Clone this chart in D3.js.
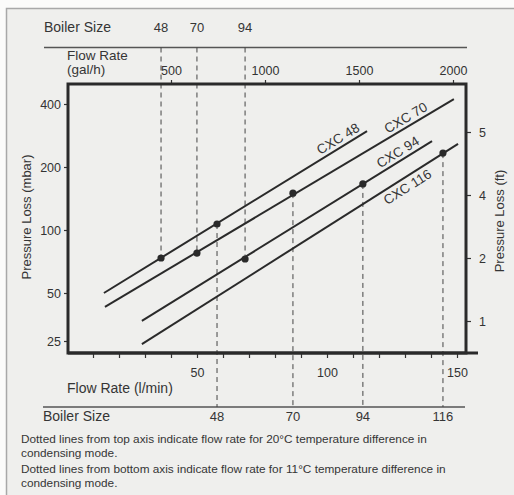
<!DOCTYPE html>
<html>
<head>
<meta charset="utf-8">
<script src="https://cdn.jsdelivr.net/npm/d3@7"></script>
<style>
  body { margin: 0; background: #fbfbfa; }
  svg { display: block; font-family: "Liberation Sans", Arial, sans-serif; }
  .tick text { fill: #333; font-size: 12.5px; }
  .tick line { stroke: #333; stroke-width: 1.2; }
</style>
</head>
<body>
<script>
// boiler sizes and the flow / pressure loss where each one sits
let boilerSizes = [48, 70, 94, 116];
let flowLmin = [57.7, 86.9, 113.8, 144.6];      // 11°C dT, bottom axis
let lossAtLmin = [106.8, 150, 166, 233];
let flowGalh = [447, 638, 894];                  // 20°C dT, top axis
let lossAtGalh = [73.5, 77.6, 72.7];

// curves: start / end as [l/min, mbar]
let curveNames = ["CXC 48", "CXC 70", "CXC 94", "CXC 116"];
let curveStart = [[14.2, 50], [14.6, 40.9], [28.8, 33.4], [28.8, 23.9]];
let curveEnd = [[115.4, 297], [148.8, 422], [140.4, 266], [150.4, 258]];
let labelFlow = [106, 132, 129, 129];

// tick labels
let mbarTicks = [25, 50, 100, 200, 400];
let ftTicks = [1, 2, 4, 5];
let lminTicks = [10, 20, 30, 40, 50, 60, 70, 80, 90, 100, 110, 120, 130, 140, 150];
let lminLabels = [50, 100, 150];
let galTicks = [500, 1000, 1500, 2000];

let svgWidth = 514, svgHeight = 495;
let plot = {left: 68, top: 84, right: 466, bottom: 353};

let svg = d3.select("body").append("svg")
    .attr("width", svgWidth)
    .attr("height", svgHeight);

// outer page frame
svg.append("rect")
    .attr("x", 6.5).attr("y", 8.5)
    .attr("width", 540).attr("height", 520)
    .attr("fill", "#efefed")
    .attr("stroke", "#a8a8a8")
    .attr("stroke-width", 1.5);

// scales
let x = d3.scaleLinear().domain([0, 150]).range([67, 457]);
let xGal = d3.scaleLinear().domain([0, 2000]).range([77, 453]);
let y = d3.scaleLog().domain([25, 50, 400]).range([341, 293, 104]);
let yFt = d3.scaleLog().domain([1, 4, 5]).range([321, 195, 132]);

let ink = "#2a2a2a";
let txt = "#353535";

// boiler size rows
let topLineY = 47.5, botLineY = 407;
svg.append("line")
    .attr("x1", 44).attr("x2", 467).attr("y1", topLineY).attr("y2", topLineY)
    .attr("stroke", "#555").attr("stroke-width", 1.5);
svg.append("line")
    .attr("x1", 43).attr("x2", 465).attr("y1", botLineY).attr("y2", botLineY)
    .attr("stroke", "#555").attr("stroke-width", 1.5);

svg.append("text").attr("x", 44).attr("y", 32)
    .attr("font-size", 14).attr("fill", txt).text("Boiler Size");
svg.append("text").attr("x", 43).attr("y", 421)
    .attr("font-size", 14).attr("fill", txt).text("Boiler Size");

svg.selectAll(".topSize")
    .data(flowGalh)
    .enter()
    .append("text")
    .attr("x", d => xGal(d))
    .attr("y", 32)
    .attr("text-anchor", "middle")
    .attr("font-size", 13)
    .attr("fill", txt)
    .text((d, i) => boilerSizes[i]);

svg.selectAll(".botSize")
    .data(flowLmin)
    .enter()
    .append("text")
    .attr("x", d => x(d))
    .attr("y", 421)
    .attr("text-anchor", "middle")
    .attr("font-size", 13)
    .attr("fill", txt)
    .text((d, i) => boilerSizes[i]);

// dotted guide lines
svg.selectAll(".topDash")
    .data(flowGalh)
    .enter()
    .append("line")
    .attr("x1", d => xGal(d)).attr("x2", d => xGal(d))
    .attr("y1", topLineY)
    .attr("y2", (d, i) => y(lossAtGalh[i]))
    .attr("stroke", "#444").attr("stroke-width", 1)
    .attr("stroke-dasharray", "5,4");

svg.selectAll(".botDash")
    .data(flowLmin)
    .enter()
    .append("line")
    .attr("x1", d => x(d)).attr("x2", d => x(d))
    .attr("y1", (d, i) => y(lossAtLmin[i]))
    .attr("y2", botLineY)
    .attr("stroke", "#444").attr("stroke-width", 1)
    .attr("stroke-dasharray", "5,4");

// axes
let leftAxis = d3.axisLeft(y).tickValues(mbarTicks).tickSize(4).tickPadding(3).tickFormat(d3.format("d"));
let rightAxis = d3.axisRight(yFt).tickValues(ftTicks).tickSize(5).tickPadding(8).tickFormat(d3.format("d"));
let bottomAxis = d3.axisBottom(x).tickValues(lminTicks).tickSize(5).tickPadding(10)
    .tickFormat(d => lminLabels.includes(d) ? d : "");
let topAxis = d3.axisTop(xGal).tickValues(galTicks).tickSize(4).tickPadding(5.5).tickFormat(d3.format("d"));

svg.append("g").attr("transform", `translate(${plot.left},0)`).call(leftAxis);
svg.append("g").attr("transform", `translate(${plot.right},0)`).call(rightAxis);
svg.append("g").attr("transform", `translate(0,${plot.bottom})`).call(bottomAxis);
svg.append("g").attr("transform", `translate(0,${plot.top})`).call(topAxis);
svg.selectAll(".domain").remove();

// plot frame
svg.append("rect")
    .attr("x", plot.left).attr("y", plot.top)
    .attr("width", plot.right - plot.left)
    .attr("height", plot.bottom - plot.top)
    .attr("fill", "none")
    .attr("stroke", ink)
    .attr("stroke-width", 3);
svg.append("line")
    .attr("x1", plot.left).attr("x2", 478)
    .attr("y1", plot.bottom).attr("y2", plot.bottom)
    .attr("stroke", ink).attr("stroke-width", 3);

// axis titles
svg.append("text").attr("x", 67).attr("y", 59.5)
    .attr("font-size", 13.5).attr("fill", txt).text("Flow Rate");
svg.append("text").attr("x", 67).attr("y", 74)
    .attr("font-size", 13.5).attr("fill", txt).text("(gal/h)");
svg.append("text").attr("x", 67).attr("y", 393)
    .attr("font-size", 14).attr("fill", txt).text("Flow Rate (l/min)");

svg.append("text")
    .attr("transform", "translate(31,217) rotate(-90)")
    .attr("text-anchor", "middle")
    .attr("font-size", 13).attr("fill", txt)
    .text("Pressure Loss (mbar)");
svg.append("text")
    .attr("transform", "translate(504,221) rotate(-90)")
    .attr("text-anchor", "middle")
    .attr("font-size", 13).attr("fill", txt)
    .text("Pressure Loss (ft)");

// curves
let curves = curveNames.map((name, i) => ({name: name, pts: [curveStart[i], curveEnd[i]], at: labelFlow[i], side: i == 3 ? -1 : 1}));
let line = d3.line().x(d => x(d[0])).y(d => y(d[1]));

svg.selectAll(".curve")
    .data(curves)
    .enter()
    .append("path")
    .attr("d", d => line(d.pts))
    .attr("fill", "none")
    .attr("stroke", ink)
    .attr("stroke-width", 2);

svg.selectAll(".curveLabel")
    .data(curves)
    .enter()
    .append("text")
    .attr("transform", d => {
        let x0 = x(d.pts[0][0]), y0 = y(d.pts[0][1]);
        let x1 = x(d.pts[1][0]), y1 = y(d.pts[1][1]);
        let t = (x(d.at) - x0) / (x1 - x0);
        let px = x0 + t * (x1 - x0), py = y0 + t * (y1 - y0);
        let ang = Math.atan2(y1 - y0, x1 - x0);
        let off = d.side > 0 ? 8.5 : 9.5;
        let nx = Math.sin(ang) * off * d.side, ny = -Math.cos(ang) * off * d.side;
        return `translate(${px + nx},${py + ny}) rotate(${ang * 180 / Math.PI})`;
    })
    .attr("text-anchor", "middle")
    .attr("dominant-baseline", "central")
    .attr("font-size", 13.5)
    .attr("fill", txt)
    .text(d => d.name);

// points
svg.selectAll(".ptTop")
    .data(flowGalh)
    .enter()
    .append("circle")
    .attr("cx", d => xGal(d))
    .attr("cy", (d, i) => y(lossAtGalh[i]))
    .attr("r", 3.6)
    .attr("fill", ink);

svg.selectAll(".ptBot")
    .data(flowLmin)
    .enter()
    .append("circle")
    .attr("cx", d => x(d))
    .attr("cy", (d, i) => y(lossAtLmin[i]))
    .attr("r", 3.6)
    .attr("fill", ink);

// notes
let notes = [
    ["Dotted lines from top axis indicate flow rate for 20°C temperature difference in", "condensing mode."],
    ["Dotted lines from bottom axis indicate flow rate for 11°C temperature difference in", "condensing mode."]
];
let noteY = [443, 473];
notes.forEach((n, i) => {
    let t = svg.append("text").attr("x", 21).attr("y", noteY[i])
        .attr("font-size", 11.8).attr("fill", txt);
    t.append("tspan").attr("x", 21).text(n[0]);
    t.append("tspan").attr("x", 21).attr("dy", 14).text(n[1]);
});
</script>
</body>
</html>
